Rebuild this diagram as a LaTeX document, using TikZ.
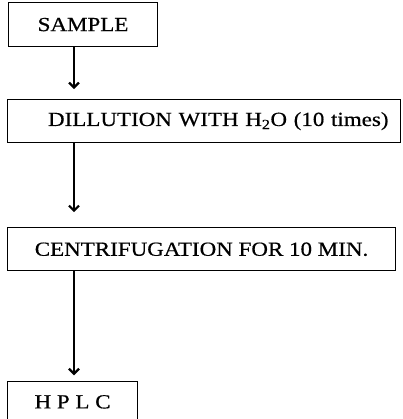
\documentclass[tikz,border=0pt]{standalone}
\usepackage{fontspec}
\setmainfont{Liberation Serif}[FakeStretch=1.15, FakeBold=0.5]
\usetikzlibrary{positioning, arrows.meta}

\begin{document}
\begin{tikzpicture} [x=1pt, y=1pt, font=\fontsize{20}{24}\selectfont,
    box/.style = {draw, rectangle, line width=1.1pt, inner sep=0pt, minimum height=43pt},
    flow/.style = {line width=1.6pt, -{Straight Barb[length=5pt, width=10pt, line width=2.2pt]}}]
    \useasboundingbox (0,0) rectangle (402,-419);

    \node (sample)
        [box, anchor=north west, minimum width=149pt, minimum height=44pt]
        at (8,-2) {SAMPLE};
    \node (dillution)
        [box, below=52pt of sample.south west, anchor=north west, xshift=-1pt,
         minimum width=393pt, text width=369pt, align=right]
        {DILLUTION WITH H\textsubscript{2}O (10 times)};
    \node (centrifuge)
        [box, below=84pt of dillution.south west, anchor=north west, minimum width=388pt]
        {CENTRIFUGATION FOR 10 MIN.};
    \node (hplc)
        [box, below=110pt of centrifuge.south west, anchor=north west,
         minimum width=130pt, minimum height=40pt]
        {H P L C};

    \draw [flow, shorten >=10pt] ([xshift=66pt]sample.south west) -- ([xshift=67pt]dillution.north west);
    \draw [flow, shorten >=15pt] ([xshift=67pt]dillution.south west) -- ([xshift=67pt]centrifuge.north west);
    \draw [flow, shorten >=6pt] ([xshift=67pt]centrifuge.south west) -- ([xshift=67pt]hplc.north west);
\end{tikzpicture}
\end{document}
